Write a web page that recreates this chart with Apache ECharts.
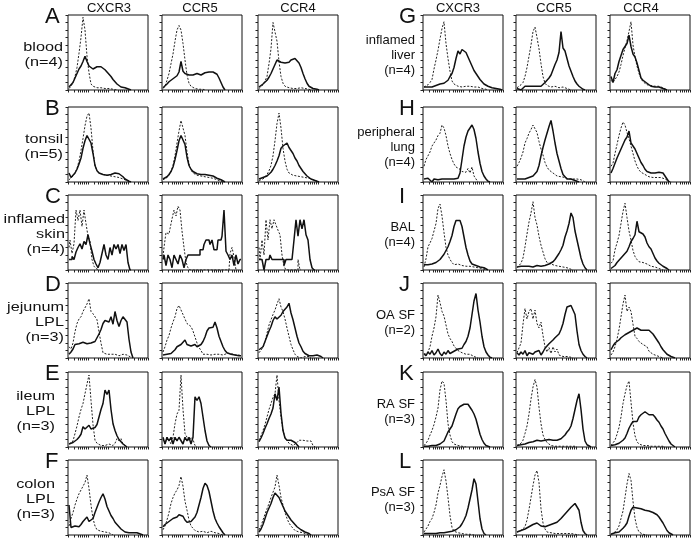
<!DOCTYPE html>
<html>
<head>
<meta charset="utf-8">
<script src="https://cdn.jsdelivr.net/npm/echarts@6/dist/echarts.min.js"></script>
<style>
html,body{margin:0;padding:0;background:#fff;}
#chart{width:695px;height:543px;}
</style>
</head>
<body>
<div id="chart"></div>
<script>
// ---------- labels ----------
const columns = ['CXCR3', 'CCR5', 'CCR4'];
const rowLetters = ['A','B','C','D','E','F','G','H','I','J','K','L'];
const rowNames = ['blood\n(n=4)','tonsil\n(n=5)','inflamed\nskin\n(n=4)','jejunum\nLPL\n(n=3)','ileum\nLPL\n(n=3)','colon\nLPL\n(n=3)',
  'inflamed\nliver\n(n=4)','peripheral\nlung\n(n=4)','BAL\n(n=4)','OA SF\n(n=2)','RA SF\n(n=3)','PsA SF\n(n=3)'];

// ---------- histogram values (% of panel height per fluorescence bin); _s = stained (solid), _d = control (dashed) ----------
const A_CXCR3_d = [2,5,10,18,30,49,70,97,80,45,23,8,5,4,3,3,3,2,2,2,2,1,1,1,0];
const A_CXCR3_s = [4,6,10,16,22,28,32,38,45,38,32,30,28,30,31,30,31,30,27,24,21,18,14,11,8,6,4,4,3,2,1,0];
const A_CCR5_d = [2,5,13,22,35,48,65,80,86,80,62,40,20,9,5,3,2,2,1,1,1,0];
const A_CCR5_s = [3,5,8,11,13,15,17,19,24,38,25,22,21,20,21,20,21,22,21,20,22,23,24,24,25,24,23,21,16,10,4,0];
const A_CCR4_d = [2,4,7,12,18,35,55,90,92,65,38,18,9,5,4,3,3,2,2,2,3,3,2,2,1,1,0];
const A_CCR4_s = [4,6,8,10,13,17,22,28,34,40,38,37,39,36,38,37,40,39,42,41,36,30,22,15,9,5,3,2,1,1,0];

const B_CXCR3_d = [3,5,8,12,18,28,42,58,75,88,92,72,42,22,15,12,10,10,9,9,8,8,7,7,7,6,5,4,3,2,1,0];
const B_CXCR3_s = [12,6,8,12,17,24,32,45,55,62,63,52,38,22,15,12,11,10,10,9,9,10,11,12,13,11,9,7,4,2,1,0];
const B_CCR5_d = [3,4,6,9,14,22,35,52,68,82,84,62,40,24,16,12,10,9,8,8,7,7,6,6,6,5,4,3,2,1,0];
const B_CCR5_s = [4,5,7,10,14,20,30,42,55,62,64,50,33,22,17,14,12,11,11,10,10,10,9,9,9,8,7,5,4,3,1,0];
const B_CCR4_d = [2,3,4,6,10,15,22,35,55,78,92,72,45,28,17,12,10,9,8,8,8,7,7,6,6,5,4,3,2,1,0];
const B_CCR4_s = [4,5,6,7,8,10,13,17,22,28,35,45,48,50,52,46,42,38,32,28,22,18,14,11,8,6,4,3,2,1,0];

const C_CXCR3_d = [30,40,22,35,80,66,80,58,80,62,45,38,14,5,2,0];
const C_CXCR3_s = [14,14,18,14,24,30,35,28,38,34,47,35,25,14,8,3,10,22,34,20,14,30,20,34,28,34,22,34,26,34,10,0];
const C_CCR5_d = [18,30,50,48,55,68,80,72,85,80,52,30,10,3,0,0,0,0,0,0,0,0,0,0,0,0,0,0,0,0,0,0,0,0,22,30,18,0];
const C_CCR5_s = [14,20,6,20,14,3,20,14,8,20,14,3,14,20,20,20,20,20,20,27,27,34,40,40,34,40,27,27,40,40,45,80,25,20,14,20,6,20,8,14];
const C_CCR4_d = [30,14,40,20,67,40,67,55,67,60,53,47,20,5,0,0,0,0,0,0,14,0];
const C_CCR4_s = [14,14,14,0,14,14,20,14,14,14,14,14,14,6,14,14,14,14,40,67,45,67,55,67,47,40,14,3,0];

const D_CXCR3_d = [15,12,20,35,46,52,55,62,64,72,79,62,59,57,51,35,20,7,5,5,4,5,3,5,4,3,4,5,3,4,2,1,0];
const D_CXCR3_s = [5,8,12,18,20,19,20,21,20,19,21,20,20,22,24,32,38,46,50,51,48,55,45,62,50,42,50,55,57,48,25,8,0];
const D_CCR5_d = [8,15,24,30,40,48,55,66,70,71,58,52,46,44,42,36,28,20,14,10,5,6,5,6,4,6,5,6,5,6,4,5,6,5,6,5,4,5,4,3];
const D_CCR5_s = [4,4,5,5,6,8,11,15,16,18,20,24,18,17,16,17,18,15,14,18,22,28,36,40,40,41,48,40,29,22,15,10,7,6,5,5,4,4,3,3];
const D_CCR4_d = [7,9,14,22,33,44,51,58,64,72,79,68,62,52,40,29,18,11,5,2,0,0,0,2,3,2,0];
const D_CCR4_s = [11,13,15,22,29,36,42,50,55,52,50,57,62,64,68,73,60,51,40,29,20,15,9,6,4,3,4,3,3,4,3,2,0];

const E_CXCR3_d = [4,6,8,18,28,40,50,58,71,84,96,62,30,9,5,3,2,2,2,3,4,3,2,5,11,8,11,4,2,0];
const E_CXCR3_s = [4,5,6,8,10,13,17,27,24,22,29,24,22,26,30,40,50,58,76,70,76,50,31,22,15,10,7,4,2,0];
const E_CCR5_d = [10,4,13,10,4,13,31,44,49,96,50,18,13,8,13,10,2,0];
const E_CCR5_s = [13,4,13,8,13,4,13,8,13,13,4,13,8,13,4,13,67,62,67,58,40,22,8,2,0];
const E_CCR4_d = [9,15,22,30,40,50,58,66,71,96,62,40,22,12,9,5,3,2,4,6,9,8,9,9,8,9,8,2,0];
const E_CCR4_s = [7,12,18,25,31,38,44,52,71,62,80,45,22,12,9,10,9,10,6,3,0];

const F_CXCR3_d = [12,22,30,40,48,55,60,65,70,80,62,40,22,12,7,5,5,4,4,4,3,2,0];
const F_CXCR3_s = [40,10,10,12,14,11,14,18,20,24,18,16,22,30,37,44,50,55,48,38,32,26,22,17,14,11,8,6,4,3,3,2,3,2,3,2,1,0];
const F_CCR5_d = [7,12,20,30,42,50,56,60,66,78,65,45,33,20,12,9,6,5,4,4,5,4,3,4,5,4,3,4,2,1,0];
const F_CCR5_s = [11,14,16,18,20,22,23,24,27,29,25,20,17,16,18,20,24,30,40,50,62,69,66,58,45,32,22,16,11,7,3,0];
const F_CCR4_d = [7,12,20,28,35,42,50,57,64,80,66,50,40,30,22,16,12,9,6,4,4,3,3,2,1,0];
const F_CCR4_s = [4,8,14,22,30,36,42,50,56,58,50,44,38,32,28,24,20,17,14,11,9,7,5,4,3,2,0];

const G_CXCR3_d = [4,5,7,10,14,28,40,53,68,82,91,62,42,25,12,8,6,5,7,4,6,5,4,5,3,4,3,4,3,2,2,1,0];
const G_CXCR3_s = [4,3,4,3,4,5,6,7,8,9,9,10,13,18,22,30,42,52,48,54,56,50,44,38,32,26,24,18,14,11,8,6,5,4,3,3,2,2,1,0];
const G_CCR5_d = [3,4,7,10,18,30,45,60,78,84,70,55,35,18,9,6,5,4,4,5,4,3,4,4,3,2,1,0];
const G_CCR5_s = [2,1,0,0,5,5,5,5,5,5,5,5,5,5,10,13,16,20,27,34,40,50,78,56,52,42,32,25,18,12,8,5,3,1,0];
const G_CCR4_d = [13,10,12,18,24,34,46,56,66,78,91,60,44,32,22,15,11,9,7,5,6,4,5,4,5,4,3,2,0];
const G_CCR4_s = [18,10,22,27,38,46,54,58,62,73,58,48,44,36,26,16,13,11,9,7,5,4,4,3,4,3,2,1,0];

const H_CXCR3_d = [21,30,32,40,48,52,56,62,65,76,72,62,48,38,30,24,20,18,17,14,12,13,18,12,20,8,4,0];
const H_CXCR3_s = [4,2,5,4,0,4,6,3,4,4,5,4,3,4,5,4,6,5,12,30,48,60,68,72,76,70,58,40,25,14,8,4,1,0];
const H_CCR5_d = [21,26,32,40,52,58,65,70,76,74,66,54,44,36,26,20,16,14,12,10,8,8,7,6,6,5,4,4,4,3,4,3,3,2,0];
const H_CCR5_s = [4,3,4,3,4,5,6,7,8,10,14,22,35,46,56,65,74,82,68,52,38,28,18,10,7,4,3,4,3,2,1,0];
const H_CCR4_d = [21,25,38,50,62,72,80,76,66,58,48,38,28,21,16,13,11,10,8,7,6,6,5,6,5,6,5,4,3,1,0];
const H_CCR4_s = [12,18,25,32,38,44,50,56,60,68,52,48,44,38,32,26,22,17,14,12,12,13,12,12,13,12,12,12,4,0];

const I_CXCR3_d = [4,15,31,36,42,52,62,82,88,72,50,30,20,14,10,7,6,8,7,6,8,5,6,5,4,4,3,3,2,2,1,0];
const I_CXCR3_s = [7,7,7,8,8,9,10,11,14,16,21,26,31,38,46,58,66,68,66,58,44,30,20,12,8,7,6,5,4,4,3,2,0];
const I_CCR5_d = [3,5,9,16,31,48,64,76,91,70,60,45,33,24,15,10,9,8,7,6,5,5,4,4,3,3,2,1,0];
const I_CCR5_s = [4,5,5,4,5,6,5,5,4,5,6,5,5,6,6,7,8,9,11,14,18,22,27,33,44,52,62,76,70,52,40,28,16,8,3,0];
const I_CCR4_d = [9,12,27,36,46,62,78,89,70,52,40,26,18,14,11,10,10,11,8,7,5,4,4,3,2,1,0];
const I_CCR4_s = [2,4,6,10,13,16,19,21,25,31,38,42,47,65,51,52,48,44,36,31,28,22,16,12,9,7,5,3,2,0];

const J_CXCR3_d = [4,5,8,15,29,40,55,84,74,62,56,44,32,26,22,16,18,10,8,7,5,5,6,5,4,2,1,0];
const J_CXCR3_s = [6,3,8,5,10,4,7,12,6,3,8,5,10,6,4,9,7,12,11,13,18,22,29,40,58,76,86,64,48,29,15,8,4,1,0];
const J_CCR5_d = [7,5,20,45,66,52,62,66,52,64,46,40,48,30,15,8,14,6,15,8,12,4,2,2,3,2,2,1,0];
const J_CCR5_s = [7,4,8,5,10,3,7,9,5,8,6,10,4,8,13,16,19,21,24,27,29,32,38,46,58,68,70,70,70,58,36,18,10,5,2,0];
const J_CCR4_d = [4,8,15,25,38,55,72,84,62,68,62,45,29,26,22,20,18,16,15,9,7,5,4,3,2,1,0];
const J_CCR4_s = [11,16,20,22,24,27,29,31,33,34,35,37,38,40,39,37,36,37,38,37,36,32,28,24,20,15,11,8,5,3,2,1,0];

const K_CXCR3_d = [2,5,9,16,22,30,40,52,76,88,85,62,31,16,7,4,3,2,2,1,1,0];
const K_CXCR3_s = [1,1,1,2,2,2,2,3,4,5,8,14,20,24,28,36,44,51,54,56,57,58,57,53,49,44,37,27,17,10,5,2,1,0];
const K_CCR5_d = [2,3,5,9,18,28,44,64,80,90,80,53,31,16,10,6,4,2,2,1,1,1,1,1,1,1,1,1,1,1,0];
const K_CCR5_s = [2,3,3,4,4,5,6,7,7,8,9,9,8,9,9,9,10,9,9,10,9,10,11,13,16,20,23,28,38,50,62,71,50,24,8,3,1,0];
const K_CCR4_d = [2,4,9,17,26,40,58,71,82,88,60,32,15,7,4,3,2,2,2,1,1,1,1,1,1,1,1,0];
const K_CCR4_s = [2,3,3,4,5,7,9,12,18,25,30,34,36,34,40,43,45,47,45,43,44,43,40,36,33,28,24,18,13,8,4,2,0];

const L_CXCR3_d = [4,8,12,18,22,30,40,56,66,78,87,72,50,26,10,5,4,3,2,2,1,1,1,1,1,0];
const L_CXCR3_s = [2,2,2,2,2,2,2,3,3,3,3,3,4,4,5,6,7,9,11,15,20,26,36,48,60,75,68,45,22,8,2,0];
const L_CCR5_d = [4,5,6,8,11,20,34,50,66,80,86,70,35,16,8,4,3,3,2,2,2,2,2,2,2,2,2,2,2,1,1,0];
const L_CCR5_s = [4,5,6,7,8,9,11,13,14,16,16,14,12,11,11,12,13,14,15,16,17,18,22,25,27,31,34,37,39,42,43,33,17,6,2,0];
const L_CCR4_d = [1,2,4,7,12,22,32,50,68,82,73,45,22,10,4,2,1,1,0];
const L_CCR4_s = [1,2,3,3,4,6,9,12,16,25,33,37,37,36,36,35,34,33,34,32,31,30,28,27,24,20,16,11,6,3,1,0];

// table of panels built from the arrays above: [row][column] -> [solid, dashed]
const panels = [
  [[A_CXCR3_s,A_CXCR3_d],[A_CCR5_s,A_CCR5_d],[A_CCR4_s,A_CCR4_d]],
  [[B_CXCR3_s,B_CXCR3_d],[B_CCR5_s,B_CCR5_d],[B_CCR4_s,B_CCR4_d]],
  [[C_CXCR3_s,C_CXCR3_d],[C_CCR5_s,C_CCR5_d],[C_CCR4_s,C_CCR4_d]],
  [[D_CXCR3_s,D_CXCR3_d],[D_CCR5_s,D_CCR5_d],[D_CCR4_s,D_CCR4_d]],
  [[E_CXCR3_s,E_CXCR3_d],[E_CCR5_s,E_CCR5_d],[E_CCR4_s,E_CCR4_d]],
  [[F_CXCR3_s,F_CXCR3_d],[F_CCR5_s,F_CCR5_d],[F_CCR4_s,F_CCR4_d]],
  [[G_CXCR3_s,G_CXCR3_d],[G_CCR5_s,G_CCR5_d],[G_CCR4_s,G_CCR4_d]],
  [[H_CXCR3_s,H_CXCR3_d],[H_CCR5_s,H_CCR5_d],[H_CCR4_s,H_CCR4_d]],
  [[I_CXCR3_s,I_CXCR3_d],[I_CCR5_s,I_CCR5_d],[I_CCR4_s,I_CCR4_d]],
  [[J_CXCR3_s,J_CXCR3_d],[J_CCR5_s,J_CCR5_d],[J_CCR4_s,J_CCR4_d]],
  [[K_CXCR3_s,K_CXCR3_d],[K_CCR5_s,K_CCR5_d],[K_CCR4_s,K_CCR4_d]],
  [[L_CXCR3_s,L_CXCR3_d],[L_CCR5_s,L_CCR5_d],[L_CCR4_s,L_CCR4_d]]
];
const stepRows = ['C'];
const BIN_COUNT = 40;

// ---------- layout ----------
const colX = [68, 162, 258, 423, 516, 610];
const rowY = [15, 107, 195, 283, 372, 460];
const PW = 80, PH = 75;
const headerX = [109, 200, 298, 458, 554, 641];
const labelRight = [63, 63, 65, 64, 55, 55, 415, 415, 415, 415, 415, 415];
const FONT = "'Liberation Sans', Arial, Helvetica, sans-serif";

const bins = [];
for (let i = 0; i < BIN_COUNT; i++) bins.push(String(i));
const logTick = (i) => [0,3,5,6,7,8,9].indexOf(i % 10) >= 0;

const grid = [], xAxis = [], yAxis = [], series = [], graphic = [];
let k = 0;
for (let r = 0; r < 12; r++) {
  const side = r < 6 ? 0 : 1;
  const top = rowY[r % 6];
  for (let c = 0; c < 3; c++) {
    const left = colX[side * 3 + c];
    grid.push({ left: left, top: top, width: PW, height: PH, show: true,
      borderColor: '#111', borderWidth: 1, backgroundColor: 'rgba(0,0,0,0)', containLabel: false });
    xAxis.push({ gridIndex: k, type: 'category', data: bins, boundaryGap: true,
      axisLine: { show: false }, axisLabel: { show: false }, splitLine: { show: false },
      axisTick: { show: true, interval: (i) => logTick(i), length: 2.5, lineStyle: { color: '#222', width: 1 } } });
    yAxis.push({ gridIndex: k, type: 'value', min: 0, max: 100, interval: 10,
      axisLine: { show: false }, axisLabel: { show: false }, splitLine: { show: false },
      axisTick: { show: true, length: 2.5, lineStyle: { color: '#222', width: 1 } } });
    const [solid, dashed] = panels[r][c];
    const step = stepRows.indexOf(rowLetters[r]) >= 0 ? 'middle' : false;
    series.push({ type: 'line', xAxisIndex: k, yAxisIndex: k, data: dashed, symbol: 'none', step: step,
      silent: true, animation: false, lineStyle: { color: '#222', width: 1, type: [2, 1.6] } });
    series.push({ type: 'line', xAxisIndex: k, yAxisIndex: k, data: solid, symbol: 'none', step: step,
      silent: true, animation: false, lineStyle: { color: '#111', width: 1.5 } });
    k++;
  }
  // row letter
  graphic.push({ type: 'text', x: side ? 399 : 45, y: top + 2, silent: true,
    style: { text: rowLetters[r], fontSize: 22, fontFamily: FONT, fill: '#111', align: 'left', verticalAlign: 'middle' } });
  // row label (left-half labels are set wider, as in the source figure)
  graphic.push({ type: 'text', x: labelRight[r], y: top + PH / 2 + 2.5, silent: true,
    scaleX: side ? 1 : 1.3,
    style: { text: rowNames[r], fontSize: side ? 13 : 12.5, fontFamily: FONT, fill: '#111', align: 'right', verticalAlign: 'middle', lineHeight: 15 } });
}
for (let i = 0; i < 6; i++) {
  graphic.push({ type: 'text', x: headerX[i], y: 8.5, silent: true,
    style: { text: columns[i % 3], fontSize: 13, fontFamily: FONT, fill: '#111', align: 'center', verticalAlign: 'middle' } });
}

const chart = echarts.init(document.getElementById('chart'), null, { renderer: 'canvas' });
chart.setOption({ animation: false, backgroundColor: '#fff', grid, xAxis, yAxis, series, graphic });
</script>
</body>
</html>
